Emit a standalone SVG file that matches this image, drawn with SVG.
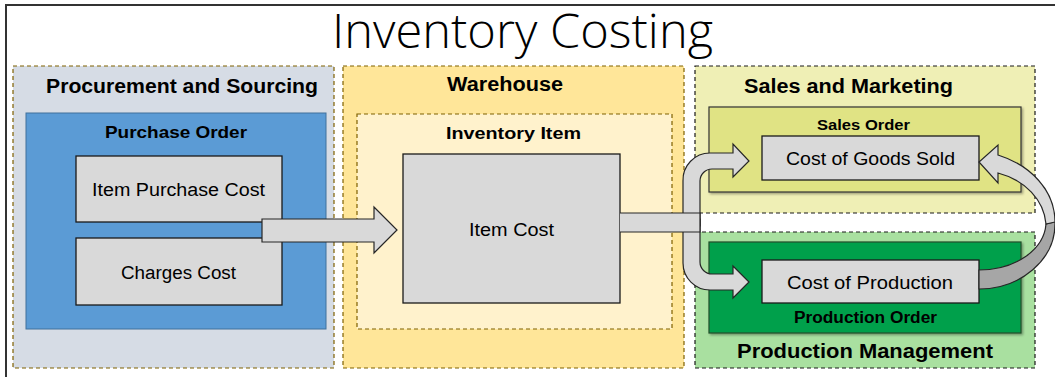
<svg xmlns="http://www.w3.org/2000/svg" width="1055" height="377" viewBox="0 0 1055 377">
<style>
text{font-family:"Liberation Sans",Arial,sans-serif;fill:#000}
.h{font-weight:bold}
.title{font-family:"Open Sans","Liberation Sans",sans-serif;font-weight:300}
.dash{stroke-dasharray:4 3;stroke-width:1.2}
.box{fill:#d9d9d9;stroke:#1a1a1a;stroke-width:1.3}
.arr{fill:#d9d9d9;stroke:#262626;stroke-width:1.2;stroke-linejoin:miter}
</style>
<defs>
<filter id="sh" x="-5%" y="-5%" width="110%" height="115%"><feDropShadow dx="1.5" dy="1.5" stdDeviation="1.2" flood-color="#000" flood-opacity="0.35"/></filter>
</defs>
<rect x="0" y="0" width="1055" height="377" fill="#fff"/>
<rect x="6" y="5" width="1070" height="390" fill="#fff" stroke="#333" stroke-width="2"/>
<text class="title" x="522.5" y="48" font-size="47" text-anchor="middle" textLength="381" lengthAdjust="spacingAndGlyphs">Inventory Costing</text>

<g id="procurement">
<rect x="13" y="66" width="321" height="302" fill="#d6dce5" stroke="#7f6000" class="dash"/>
<text class="h" x="182" y="93" font-size="20" text-anchor="middle" textLength="272" lengthAdjust="spacingAndGlyphs">Procurement and Sourcing</text>
</g>
<g id="purchase-order">
<rect x="26" y="113" width="300" height="216" fill="#5b9bd5" stroke="#41719c" stroke-width="1"/>
<text class="h" x="176" y="138" font-size="17" text-anchor="middle" textLength="142" lengthAdjust="spacingAndGlyphs">Purchase Order</text>
</g>
<g id="item-purchase-cost">
<rect class="box" x="76" y="156" width="206" height="66"/>
<text x="178.5" y="196" font-size="18" text-anchor="middle" textLength="173" lengthAdjust="spacingAndGlyphs">Item Purchase Cost</text>
</g>
<g id="charges-cost">
<rect class="box" x="76" y="238" width="206" height="67"/>
<text x="178.5" y="279" font-size="18" text-anchor="middle" textLength="115" lengthAdjust="spacingAndGlyphs">Charges Cost</text>
</g>

<g id="warehouse">
<rect x="343" y="66" width="341" height="302" fill="#ffe699" stroke="#7f6000" class="dash"/>
<text class="h" x="505" y="91" font-size="20" text-anchor="middle" textLength="116" lengthAdjust="spacingAndGlyphs">Warehouse</text>
</g>
<g id="inventory-item">
<rect x="357" y="114" width="315" height="215" fill="#fff2cc" stroke="#7f6000" class="dash"/>
<text class="h" x="513.5" y="139" font-size="17" text-anchor="middle" textLength="135" lengthAdjust="spacingAndGlyphs">Inventory Item</text>
</g>
<g id="item-cost">
<rect class="box" x="403" y="154" width="217" height="149"/>
<text x="511.5" y="236" font-size="18" text-anchor="middle" textLength="85" lengthAdjust="spacingAndGlyphs">Item Cost</text>
</g>

<g id="sales-marketing">
<rect x="695" y="66" width="340" height="147" fill="#efefb5" stroke="#1a1a1a" class="dash"/>
<text class="h" x="848.5" y="93" font-size="20" text-anchor="middle" textLength="209" lengthAdjust="spacingAndGlyphs">Sales and Marketing</text>
</g>
<g id="sales-order">
<rect x="709" y="107" width="312" height="85" fill="#e0e384" stroke="#333" stroke-width="1.2" filter="url(#sh)"/>
<text class="h" x="863.5" y="130" font-size="15" text-anchor="middle" textLength="93" lengthAdjust="spacingAndGlyphs">Sales Order</text>
</g>
<g id="cost-goods-sold">
<rect class="box" x="762" y="136" width="217" height="44"/>
<text x="870.5" y="165" font-size="18" text-anchor="middle" textLength="169" lengthAdjust="spacingAndGlyphs">Cost of Goods Sold</text>
</g>

<g id="production-management">
<rect x="695" y="232" width="340" height="136" fill="#a9e0a0" stroke="#1a1a1a" class="dash"/>
<text class="h" x="865" y="358" font-size="21" text-anchor="middle" textLength="256" lengthAdjust="spacingAndGlyphs">Production Management</text>
</g>
<g id="production-order">
<rect x="709" y="242" width="312" height="91" fill="#00a04b" stroke="#1f4d2a" stroke-width="1.2" filter="url(#sh)"/>
<text class="h" x="865.5" y="323" font-size="16" text-anchor="middle" textLength="143" lengthAdjust="spacingAndGlyphs">Production Order</text>
</g>
<g id="cost-production">
<rect class="box" x="762" y="260" width="217" height="43"/>
<text x="870" y="289" font-size="18" text-anchor="middle" textLength="166" lengthAdjust="spacingAndGlyphs">Cost of Production</text>
</g>

<g id="connectors">
<path class="arr" d="M262,219 L374,219 L374,207 L397,230 L374,253 L374,242 L262,242 Z"/>
<path class="arr" d="M683,226 L683,181 A27,27 0 0 1 710,153 L733,153 L733,144 L749,161 L733,177 L733,169 L712,169 A12,12 0 0 0 700,181 L700,226 Z"/>
<path class="arr" d="M683,219 L683,263 A27,27 0 0 0 710,290 L733,290 L733,298 L749,282 L733,266 L733,274 L712,274 A12,12 0 0 1 700,262 L700,219 Z"/>
<path class="arr" d="M620,213 L700,213 L700,232 L620,232"/>
<path d="M1055,222 C1056,260 1020,289 979,289 L979,270 C1015,270 1044,250 1046,224 Z" fill="#a6a6a6" stroke="#262626" stroke-width="1.2"/>
<path class="arr" d="M998,155 C1030,165 1055,190 1055,222 L1046,224 C1044,200 1025,180 998,173 L998,183 L979,162 L998,145 Z"/>
</g>
</svg>
